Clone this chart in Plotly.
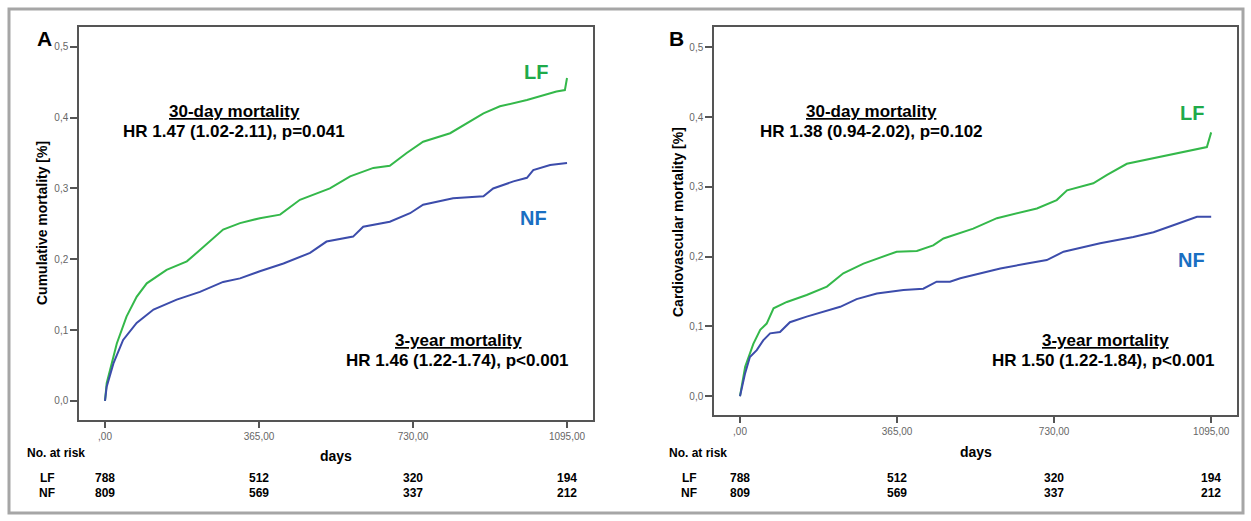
import plotly.graph_objects as go

W, H = 1251, 521

# ---------------- data ----------------
a_lf_days = [0, 4, 28, 51, 75, 99, 146, 194, 225, 280, 320, 367, 415, 462, 533, 581, 636, 675,
             715, 754, 818, 857, 897, 936, 1000, 1070, 1090, 1095]
a_lf_vals = [0, 0.025, 0.081, 0.119, 0.147, 0.166, 0.185, 0.197, 0.213, 0.242, 0.251, 0.258, 0.263,
             0.284, 0.300, 0.317, 0.329, 0.332, 0.350, 0.366, 0.378, 0.392, 0.406, 0.416, 0.425,
             0.437, 0.439, 0.456]
a_nf_days = [0, 4, 20, 43, 75, 115, 170, 225, 280, 320, 367, 423, 486, 525, 588, 612, 675, 723,
             754, 825, 897, 920, 968, 1000, 1015, 1055, 1095]
a_nf_vals = [0, 0.020, 0.053, 0.086, 0.110, 0.129, 0.143, 0.154, 0.168, 0.173, 0.183, 0.194, 0.209,
             0.225, 0.232, 0.246, 0.253, 0.265, 0.277, 0.286, 0.289, 0.300, 0.310, 0.315, 0.326,
             0.333, 0.336]

b_lf_days = [0, 12, 31, 47, 62, 78, 109, 155, 202, 240, 287, 326, 364, 411, 449, 473, 542, 597,
             643, 690, 736, 760, 821, 853, 899, 961, 1023, 1085, 1095]
b_lf_vals = [0, 0.042, 0.075, 0.095, 0.104, 0.126, 0.135, 0.145, 0.157, 0.176, 0.190, 0.199, 0.207,
             0.208, 0.216, 0.226, 0.240, 0.255, 0.262, 0.269, 0.281, 0.295, 0.305, 0.317, 0.333,
             0.341, 0.348, 0.357, 0.378]
b_nf_days = [0, 12, 23, 39, 54, 70, 93, 116, 155, 194, 233, 271, 318, 380, 426, 457, 488, 512, 558,
             605, 667, 713, 752, 837, 914, 961, 1007, 1039, 1062, 1095]
b_nf_vals = [0, 0.033, 0.056, 0.066, 0.080, 0.090, 0.092, 0.106, 0.114, 0.121, 0.128, 0.139, 0.147,
             0.152, 0.154, 0.164, 0.164, 0.169, 0.176, 0.183, 0.190, 0.195, 0.207, 0.219, 0.228,
             0.235, 0.245, 0.252, 0.257, 0.257]

x_tick_vals = [0, 365, 730, 1095]
x_tick_text = [",00", "365,00", "730,00", "1095,00"]
y_tick_vals = [0.0, 0.1, 0.2, 0.3, 0.4, 0.5]
y_tick_text = ["0,0", "0,1", "0,2", "0,3", "0,4", "0,5"]

risk_days = [0, 365, 730, 1095]
risk_lf = [788, 512, 320, 194]
risk_nf = [809, 569, 337, 212]

panel_titles = ["Cumulative mortality [%]", "Cardiovascular mortality [%]"]
hr30 = ["HR 1.47 (1.02-2.11), p=0.041", "HR 1.38 (0.94-2.02), p=0.102"]
hr3y = ["HR 1.46 (1.22-1.74), p<0.001", "HR 1.50 (1.22-1.84), p<0.001"]

# ---------------- style ----------------
FONT = "Liberation Sans, Arial, Helvetica, sans-serif"
GREEN_LINE = "#34b84a"
BLUE_LINE = "#3c4cab"
GREEN_TXT = "#1faa4a"
BLUE_TXT = "#1a6fc2"
AXIS = "#555555"


def px(x):
    return x / W


def py(y):
    return 1 - y / H


fig = go.Figure()

# curves
fig.add_trace(go.Scatter(x=a_lf_days, y=a_lf_vals, mode="lines", line=dict(color=GREEN_LINE, width=2),
                         xaxis="x", yaxis="y", showlegend=False))
fig.add_trace(go.Scatter(x=a_nf_days, y=a_nf_vals, mode="lines", line=dict(color=BLUE_LINE, width=2),
                         xaxis="x", yaxis="y", showlegend=False))
fig.add_trace(go.Scatter(x=b_lf_days, y=b_lf_vals, mode="lines", line=dict(color=GREEN_LINE, width=2),
                         xaxis="x2", yaxis="y2", showlegend=False))
fig.add_trace(go.Scatter(x=b_nf_days, y=b_nf_vals, mode="lines", line=dict(color=BLUE_LINE, width=2),
                         xaxis="x2", yaxis="y2", showlegend=False))

common_x = dict(tickvals=x_tick_vals, ticktext=x_tick_text, ticks="outside", ticklen=6,
                tickcolor=AXIS, tickwidth=1.5, showline=True, linecolor=AXIS, linewidth=1.5,
                mirror=True, showgrid=False, zeroline=False,
                tickfont=dict(family=FONT, size=10, color="#666666"))
common_y = dict(tickvals=y_tick_vals, ticktext=y_tick_text, ticks="outside", ticklen=7,
                tickcolor=AXIS, tickwidth=1.5, showline=True, linecolor=AXIS, linewidth=1.5,
                mirror=True, showgrid=False, zeroline=False,
                tickfont=dict(family=FONT, size=10, color="#666666"))

fig.update_layout(
    width=W, height=H,
    margin=dict(l=0, r=0, t=0, b=0),
    paper_bgcolor="white", plot_bgcolor="white",
    font=dict(family=FONT),
    xaxis=dict(domain=[px(79), px(593)], range=[-61.6, 1156.6], anchor="y", **common_x),
    yaxis=dict(domain=[py(420), py(27)], range=[-0.027, 0.528], anchor="x", **common_y),
    xaxis2=dict(domain=[px(714), px(1237)], range=[-60.4, 1155], anchor="y2", **common_x),
    yaxis2=dict(domain=[py(415), py(27)], range=[-0.027, 0.529], anchor="x2", **common_y),
)

# outer border
fig.add_shape(type="rect", xref="paper", yref="paper", x0=px(9), x1=px(1243), y0=py(513), y1=py(9),
              line=dict(color="#a6a6a6", width=3), fillcolor="rgba(0,0,0,0)", layer="below")

ann = []


def add(text, x, y, size=13, color="black", xanchor="center", textangle=0, xref="paper", yref="paper"):
    ann.append(dict(text=text, x=x, y=y, xref=xref, yref=yref, showarrow=False,
                    xanchor=xanchor, yanchor="middle", textangle=textangle,
                    font=dict(family=FONT, size=size, color=color)))


panels = [
    dict(letter="A", lx=44, ytx=42, yty=223, d30x=234, y3r=571, y3c=458, lf=(536, 72), nf=(533, 218),
         days=(336, 456), nar=25, grp=47, xa="x"),
    dict(letter="B", lx=676, ytx=678, yty=222, d30x=871, y3r=1217, y3c=1105, lf=(1192, 113), nf=(1191, 260),
         days=(976, 452), nar=667, grp=689, xa="x2"),
]

for i, p in enumerate(panels):
    add("<b>%s</b>" % p["letter"], px(p["lx"]), py(39), size=21)
    add("<b>%s</b>" % panel_titles[i], px(p["ytx"]), py(p["yty"]), size=14, textangle=-90)
    add("<b><u>30-day mortality</u></b>", px(p["d30x"]), py(112), size=17)
    add("<b>%s</b>" % hr30[i], px(p["d30x"]), py(131), size=17)
    add("<b><u>3-year mortality</u></b>", px(p["y3c"]), py(340), size=17)
    add("<b>%s</b>" % hr3y[i], px(p["y3r"]), py(360), size=17, xanchor="right")
    add("<b>LF</b>", px(p["lf"][0]), py(p["lf"][1]), size=20, color=GREEN_TXT)
    add("<b>NF</b>", px(p["nf"][0]), py(p["nf"][1]), size=20, color=BLUE_TXT)
    add("<b>days</b>", px(p["days"][0]), py(p["days"][1]), size=14)
    add("<b>No. at risk</b>", px(p["nar"]), py(453), size=12, xanchor="left")
    add("<b>LF</b>", px(p["grp"]), py(478), size=12)
    add("<b>NF</b>", px(p["grp"]), py(493), size=12)
    for d, lf, nf in zip(risk_days, risk_lf, risk_nf):
        ann.append(dict(text="<b>%d</b>" % lf, x=d, y=py(478), xref=p["xa"], yref="paper", showarrow=False,
                        xanchor="center", yanchor="middle", font=dict(family=FONT, size=12, color="black")))
        ann.append(dict(text="<b>%d</b>" % nf, x=d, y=py(493), xref=p["xa"], yref="paper", showarrow=False,
                        xanchor="center", yanchor="middle", font=dict(family=FONT, size=12, color="black")))

fig.update_layout(annotations=ann)
fig.write_html("out.html", config={"displayModeBar": False},
               post_script="document.body.style.margin='0';document.body.style.overflow='hidden';")
